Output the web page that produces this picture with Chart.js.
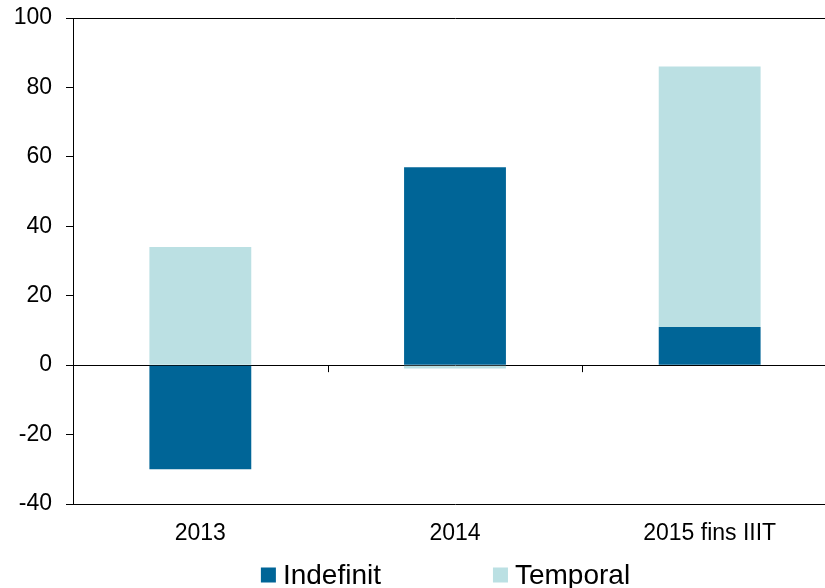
<!DOCTYPE html>
<html lang="ca">
<head>
  <meta charset="UTF-8">
  <title>Indefinit / Temporal</title>
  <script src="https://cdn.jsdelivr.net/npm/chart.js"></script>
  <style>
    html, body { margin: 0; padding: 0; overflow: hidden; background: #fff; }
    canvas { display: block; }
  </style>
</head>
<body>
  <canvas id="chart" width="837" height="588"></canvas>

  <script>
    // data
    const categories = ['2013', '2014', '2015 fins IIIT'];
    const indefinit = [-30, 57, 11];
    const temporal = [34, -1, 75];
    const yTicks = [-40, -20, 0, 20, 40, 60, 80, 100];

    const FONT = 'Liberation Sans, Arial, sans-serif';
    const DARK = '#006597';
    const LIGHT = '#bbe0e3';

    // small tick marks on the zero line between categories
    const zeroTicks = {
      id: 'zeroTicks',
      afterDatasetsDraw(chart) {
        const x = chart.scales.x, y = chart.scales.y;
        const y0 = y.getPixelForValue(0);
        const ctx = chart.ctx;
        ctx.save();
        ctx.strokeStyle = '#000';
        ctx.lineWidth = 1;
        for (let i = 1; i < categories.length; i++) {
          const px = Math.round((x.getPixelForValue(i - 1) + x.getPixelForValue(i)) / 2) + 0.5;
          ctx.beginPath();
          ctx.moveTo(px, y0);
          ctx.lineTo(px, y0 + 7);
          ctx.stroke();
        }
        ctx.restore();
      }
    };

    // legend drawn under the axis labels
    const bottomLegend = {
      id: 'bottomLegend',
      afterDraw(chart) {
        const ctx = chart.ctx;
        const area = chart.chartArea;
        const box = 15, gap = 7, spacing = 112;
        ctx.save();
        ctx.font = '28px ' + FONT;
        ctx.textBaseline = 'middle';
        ctx.textAlign = 'left';
        const items = chart.data.datasets.map(d => ({
          text: d.label, color: d.backgroundColor, w: box + gap + ctx.measureText(d.label).width
        }));
        const total = items.reduce((s, it) => s + it.w, 0) + spacing * (items.length - 1);
        let x = (area.left + area.right) / 2 - 9.5 - total / 2;
        const cy = 575;
        items.forEach(it => {
          ctx.fillStyle = it.color;
          ctx.fillRect(x, cy - box / 2, box, box);
          ctx.fillStyle = '#000';
          ctx.fillText(it.text, x + box + gap, cy + 1);
          x += it.w + spacing;
        });
        ctx.restore();
      }
    };

    const ctx = document.getElementById('chart').getContext('2d');
    new Chart(ctx, {
      type: 'bar',
      data: {
        labels: categories,
        datasets: [
          { label: 'Indefinit', data: indefinit, backgroundColor: DARK, borderWidth: 0,
            barPercentage: 0.4, categoryPercentage: 1 },
          { label: 'Temporal', data: temporal, backgroundColor: LIGHT, borderWidth: 0,
            barPercentage: 0.4, categoryPercentage: 1 }
        ]
      },
      options: {
        responsive: false,
        animation: false,
        layout: { padding: { top: 18, right: 0, bottom: 0, left: 0 } },
        plugins: {
          legend: { display: false },
          tooltip: { enabled: false }
        },
        scales: {
          x: {
            stacked: true,
            grid: { display: false, drawTicks: false },
            border: { display: false },
            ticks: { color: '#000', font: { family: FONT, size: 23 }, padding: 16, maxRotation: 0 },
            afterFit(s) { s.height = 84; s.paddingLeft = 0; s.paddingRight = 0; }
          },
          y: {
            stacked: true,
            min: -40,
            max: 100,
            afterBuildTicks(s) { s.ticks = yTicks.map(v => ({ value: v })); },
            grid: {
              color: c => (c.tick && [-40, 0, 100].includes(c.tick.value)) ? '#000' : 'rgba(0,0,0,0)',
              tickColor: '#000',
              tickLength: 7,
              lineWidth: 1
            },
            border: { display: true, color: '#000', width: 1 },
            ticks: { color: '#000', font: { family: FONT, size: 23 }, padding: 14 },
            afterFit(s) { s.width = 73; s.paddingTop = 0; s.paddingBottom = 0; }
          }
        }
      },
      plugins: [zeroTicks, bottomLegend]
    });
  </script>
</body>
</html>
